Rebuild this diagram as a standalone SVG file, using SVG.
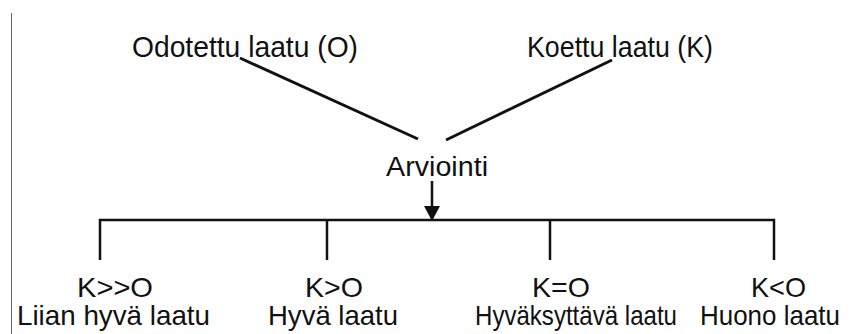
<svg xmlns="http://www.w3.org/2000/svg" width="852" height="334" viewBox="0 0 852 334">
  <style>
    text { font-family: "Liberation Sans", Arial, sans-serif; fill: #111; }
    .top { font-size: 30px; }
    .mid { font-size: 27px; }
    .leaf { font-size: 28px; }
    .edge { stroke: #111; fill: none; stroke-linecap: butt; }
    .diag { stroke-width: 3; }
    .tree { stroke-width: 2.5; }
  </style>
  <rect width="852" height="334" fill="#ffffff"/>
  <line x1="11.5" y1="13" x2="11.5" y2="334" stroke="#666" stroke-width="1"/>

  <g id="connectors">
    <line class="edge diag" x1="240" y1="58" x2="418" y2="139"/>
    <line class="edge diag" x1="612" y1="60" x2="446" y2="140"/>
    <path class="edge tree" d="M432,181 V206"/>
    <path d="M424,206 L440,206 L432,221 Z" fill="#111"/>
    <path class="edge tree" d="M100,260 V220 H774 V260"/>
    <path class="edge tree" d="M327,220 V260"/>
    <path class="edge tree" d="M550,220 V260"/>
  </g>

  <g id="odotettu">
    <text class="top" x="132" y="57" textLength="226" lengthAdjust="spacingAndGlyphs">Odotettu laatu (O)</text>
  </g>
  <g id="koettu">
    <text class="top" x="527" y="57" textLength="186" lengthAdjust="spacingAndGlyphs">Koettu laatu (K)</text>
  </g>
  <g id="arviointi">
    <text class="mid" x="386" y="176" textLength="102" lengthAdjust="spacingAndGlyphs">Arviointi</text>
  </g>
  <g id="liian-hyva">
    <text class="leaf" x="77" y="297" textLength="76" lengthAdjust="spacingAndGlyphs">K&gt;&gt;O</text>
    <text class="leaf" x="17" y="325" textLength="193" lengthAdjust="spacingAndGlyphs">Liian hyvä laatu</text>
  </g>
  <g id="hyva">
    <text class="leaf" x="305" y="297" textLength="58" lengthAdjust="spacingAndGlyphs">K&gt;O</text>
    <text class="leaf" x="268" y="325" textLength="130" lengthAdjust="spacingAndGlyphs">Hyvä laatu</text>
  </g>
  <g id="hyvaksyttava">
    <text class="leaf" x="532" y="297" textLength="58" lengthAdjust="spacingAndGlyphs">K=O</text>
    <text class="leaf" x="475" y="325" textLength="202" lengthAdjust="spacingAndGlyphs">Hyväksyttävä laatu</text>
  </g>
  <g id="huono">
    <text class="leaf" x="751" y="297" textLength="55" lengthAdjust="spacingAndGlyphs">K&lt;O</text>
    <text class="leaf" x="700" y="325" font-size="26" textLength="140" lengthAdjust="spacingAndGlyphs">Huono laatu</text>
  </g>
</svg>
